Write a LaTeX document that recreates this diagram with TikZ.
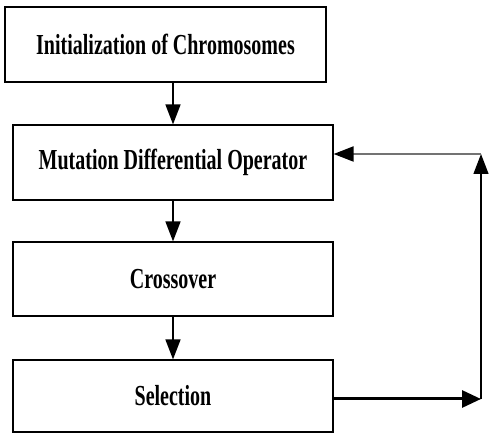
\documentclass[tikz,border=0pt]{standalone}
\usepackage{fontspec}
\setmainfont{Liberation Serif}
\usepackage{tikz}
\usetikzlibrary{arrows.meta}
\tikzset{
  stagebox/.style={draw,line width=1.2pt,minimum width=320pt,minimum height=74pt,inner sep=0pt,font=\fontsize{29}{32}\selectfont\bfseries},
  flowarrow/.style={line width=1.6pt,-{Triangle[length=20pt,width=15pt,color=black]}},
  backarrow/.style={line width=3pt,-{Triangle[length=19pt,width=17pt]}}
}
\newcommand{\narrow}[1]{\scalebox{0.69}[1]{#1}}

\begin{document}
\begin{tikzpicture}[x=1pt,y=-1pt]
  \useasboundingbox (0,0) rectangle (490,435);
  \node[stagebox,minimum width=321pt,minimum height=75pt] (init) at (165.5,44.5) {\narrow{Initialization of Chromosomes}};
  \node[stagebox,minimum height=75pt] (mut) at (173,162.5) {\narrow{Mutation Differential Operator}};
  \node[stagebox] (cross) at (173,279) {\narrow{Crossover}};
  \node[stagebox,minimum height=72pt] (sel) at (173,396) {\narrow{Selection}};
  \coordinate (loopbot) at (481,399);
  \coordinate (looptop) at (481,154);
  \draw[flowarrow] (mut.north |- init.south) -- (mut.north);
  \draw[flowarrow] (mut.south) -- (cross.north);
  \draw[flowarrow] (cross.south) -- (sel.north);
  % feedback loop
  \draw[backarrow] (sel.east |- loopbot) -- (loopbot);
  \draw[flowarrow,line width=1.3pt] (loopbot) -- (looptop);
  \draw[flowarrow,draw=black!55,line width=2pt] (looptop) -- (mut.east |- looptop);
\end{tikzpicture}
\end{document}
